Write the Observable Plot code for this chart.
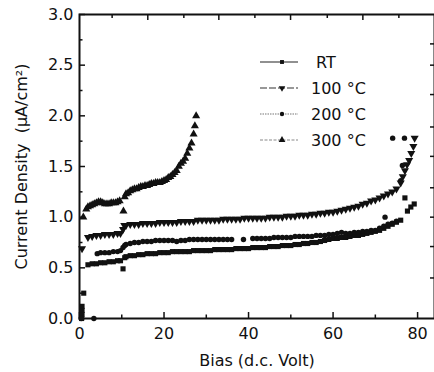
<!DOCTYPE html>
<html><head><meta charset="utf-8">
<script src="https://cdn.jsdelivr.net/npm/d3@7"></script>
<script src="https://cdn.jsdelivr.net/npm/@observablehq/plot@0.6"></script>
<style>body{margin:0;background:#fff} #chart{width:434px;height:372px}</style>
</head><body><div id="chart"></div>
<script>
// ---- data ----
const seriesNames = ["RT", "100 °C", "200 °C", "300 °C"];

const rtBias = [0.5,0.6,0.6,0.6,1.0,2,3,4,5,6,7,8,9,9.7,10.3,10.7,
  11,12,13,14,15,16,17,18,19,20,21,22,23,24,25,26,27,28,29,30,31,32,33,34,35,36,37,38,39,40,
  41,42,43,44,45,46,47,48,49,50,51,52,53,54,55,56,57,58,59,60,61,62,63,64,65,66,67,68,69,70,
  71,72,73,74,75,76,77,77.6,78.4,79.2];
const rtJ = [0.0,0.04,0.08,0.12,0.25,0.53,0.54,0.54,0.55,0.55,0.56,0.56,0.57,0.57,0.49,0.60,
  0.61,0.62,0.62,0.63,0.63,0.64,0.64,0.64,0.65,0.65,0.65,0.66,0.66,0.66,0.66,0.66,0.67,0.67,0.67,0.67,
  0.67,0.68,0.68,0.68,0.68,0.68,0.69,0.69,0.69,0.69,0.70,0.70,0.70,0.70,0.71,0.71,0.71,0.72,0.72,0.72,
  0.73,0.73,0.74,0.74,0.75,0.75,0.76,0.77,0.78,0.79,0.79,0.80,0.80,0.81,0.82,0.82,0.83,0.84,0.85,0.86,
  0.87,0.89,0.91,0.93,0.95,0.97,1.19,1.06,1.10,1.13];

const t100Bias = [0.6,2,3,4,5,6,7,8,9,9.7,10.3,10.6,
  11,12,13,14,15,16,17,18,19,20,21,22,23,24,25,26,27,28,29,30,31,32,33,34,35,36,37,38,39,40,
  41,42,43,44,45,46,47,48,49,50,51,52,53,54,55,56,57,58,59,60,61,62,63,64,65,66,67,68,69,70,
  71,72,73,74,75,76,76.5,77,77.5,78,78.5,79,79.3];
const t100J = [0.69,0.80,0.81,0.82,0.82,0.83,0.83,0.83,0.84,0.84,0.88,0.92,
  0.92,0.93,0.93,0.93,0.94,0.94,0.94,0.94,0.95,0.95,0.95,0.95,0.95,0.96,0.96,0.96,0.96,0.97,0.97,0.97,
  0.97,0.97,0.97,0.98,0.98,0.98,0.98,0.98,0.99,0.99,0.99,0.99,0.99,0.99,1.00,1.00,1.00,1.00,1.01,1.01,
  1.01,1.02,1.02,1.02,1.03,1.03,1.04,1.04,1.05,1.05,1.06,1.07,1.08,1.09,1.10,1.11,1.13,1.14,1.16,1.17,
  1.19,1.21,1.23,1.25,1.28,1.34,1.40,1.46,1.52,1.56,1.63,1.70,1.78];

const t200Bias = [0.4,3.4,4.2,5,6,7,8,9,9.7,10.3,10.7,
  11,12,13,14,15,16,17,18,19,20,21,22,23,24,25,26,27,28,29,30,31,32,33,34,35,36,38.8,
  41,42,43,44,45,46,47,48,49,50,51,52,53,54,55,56,57,58,59,60,61,62,63,64,65,66,67,68,69,70,
  71,72,72.3,73,74,75,76,76.4,74.1,76.9];
const t200J = [0.0,0.0,0.64,0.65,0.65,0.65,0.66,0.66,0.67,0.70,0.72,
  0.73,0.74,0.75,0.75,0.76,0.76,0.76,0.77,0.77,0.77,0.77,0.77,0.76,0.77,0.77,0.78,0.78,0.78,0.78,0.78,
  0.78,0.78,0.78,0.78,0.78,0.78,0.78,
  0.79,0.79,0.79,0.79,0.79,0.80,0.80,0.80,0.80,0.80,0.81,0.81,0.81,0.81,0.81,0.82,0.82,0.82,0.83,0.83,
  0.84,0.85,0.84,0.84,0.85,0.85,0.86,0.86,0.87,0.87,
  0.89,0.91,1.00,0.93,0.94,0.96,1.36,1.51,1.78,1.78];

const t300Bias = [0.9,1.6,2,2.5,3,3.5,4,4.5,5,5.5,6,6.5,7,7.5,8,8.5,9,9.5,10.4,10.7,
  11,11.5,12,12.5,13,13.5,14,14.5,15,15.5,16,16.5,17,17.5,18,18.5,19,19.5,20,20.5,21,21.5,
  22,22.5,23,23.5,24,24.5,25,25.5,26,26.5,27,27.3,27.6];
const t300J = [1.00,1.08,1.10,1.11,1.12,1.13,1.14,1.15,1.15,1.14,1.13,1.13,1.13,1.14,1.14,1.14,1.15,1.16,1.06,1.20,
  1.23,1.24,1.26,1.27,1.28,1.28,1.29,1.30,1.30,1.31,1.31,1.32,1.33,1.33,1.34,1.34,1.34,1.35,1.36,1.37,1.39,1.40,
  1.42,1.44,1.46,1.50,1.53,1.55,1.58,1.63,1.68,1.73,1.82,1.90,2.00];

// ---- axes / ticks ----
const xTickValues = [0, 20, 40, 60, 80];
const xMinorTicks = [10, 30, 50, 70];
const yTickValues = [0, 0.5, 1.0, 1.5, 2.0, 2.5, 3.0];
const yMinorTicks = [0.25, 0.75, 1.25, 1.75, 2.25, 2.75];
const topTicksLong = [16.16, 32.97, 49.94, 67.05];
const topTicksShort = [7.72, 24.69, 41.5, 58.63, 75.57];
const rightTicks = [0.40, 0.71, 1.00, 1.29, 1.60, 1.89, 2.21, 2.50, 2.71];
const xLabel = "Bias (d.c. Volt)";
const yLabel = "Current Density  (\u03bcA/cm\u00b2)";

// ---- build ----
const W = 434, H = 372, mL = 79, mR = 0, mT = 14, mB = 54;
const fw = W - mL - mR, fh = H - mT - mB;
const zip = (xs, ys, s) => xs.map((x, i) => ({bias: x, j: ys[i], series: s}));
const rt = zip(rtBias, rtJ, seriesNames[0]);
const d100 = zip(t100Bias, t100J, seriesNames[1]);
const d200 = zip(t200Bias, t200J, seriesNames[2]);
const d300 = zip(t300Bias, t300J, seriesNames[3]);

const sqrt3 = Math.sqrt(3);
const triangleDown = {draw(context, size) {
  const y = -Math.sqrt(size / (sqrt3 * 3));
  context.moveTo(0, -y * 2);
  context.lineTo(-sqrt3 * y, y);
  context.lineTo(sqrt3 * y, y);
  context.closePath();
}};

const font = "DejaVu Sans, sans-serif";
const fs = 16;
const rSq = 2.9, rDn = 3.0, rCi = 2.7, rUp = 3.0;
const svg = Plot.plot({
  width: W, height: H, marginLeft: mL, marginRight: mR, marginTop: mT, marginBottom: mB,
  style: {fontFamily: font, fontSize: fs + "px", color: "#111", background: "#fff"},
  x: {domain: [0, 84]},
  y: {domain: [0, 3]},
  marks: [
    Plot.axisX({ticks: xTickValues, tickSize: 0, tickPadding: 9, label: null, tickFormat: d3.format("d"), fontSize: fs}),
    Plot.axisY({ticks: yTickValues, tickSize: 0, tickPadding: 6, label: null, tickFormat: d3.format(".1f"), fontSize: fs}),
    // inward ticks
    Plot.ruleX(xTickValues, {x: d => d, insetTop: fh - 6, stroke: "#111", strokeWidth: 1.5}),
    Plot.ruleX(xMinorTicks, {x: d => d, insetTop: fh - 3.5, stroke: "#111", strokeWidth: 1.5}),
    Plot.ruleX(topTicksLong, {x: d => d, insetBottom: fh - 6, stroke: "#111", strokeWidth: 1.5}),
    Plot.ruleX(topTicksShort, {x: d => d, insetBottom: fh - 4, stroke: "#111", strokeWidth: 1.5}),
    Plot.ruleY(yTickValues, {y: d => d, insetRight: fw - 6, stroke: "#111", strokeWidth: 1.5}),
    Plot.ruleY(yMinorTicks, {y: d => d, insetRight: fw - 3.5, stroke: "#111", strokeWidth: 1.5}),
    Plot.ruleY(rightTicks, {y: d => d, insetLeft: fw - 4, stroke: "#111", strokeWidth: 1.5}),
    Plot.frame({stroke: "#111", strokeWidth: 2}),
    // data
    Plot.dot(rt, {x: "bias", y: "j", symbol: "square", r: rSq, fill: "#111", stroke: "none"}),
    Plot.dot(d100, {x: "bias", y: "j", symbol: triangleDown, r: rDn, fill: "#111", stroke: "none"}),
    Plot.dot(d200, {x: "bias", y: "j", symbol: "circle", r: rCi, fill: "#111", stroke: "none"}),
    Plot.dot(d300, {x: "bias", y: "j", symbol: "triangle", r: rUp, fill: "#111", stroke: "none"}),
    // axis titles
    Plot.text([xLabel], {frameAnchor: "bottom", dy: 47, text: d => d, fontSize: fs, fill: "#111"}),
    Plot.text([yLabel], {frameAnchor: "left", dx: -58, rotate: -90, textAnchor: "middle", text: d => d, fontSize: fs, fill: "#111"})
  ]
});

// legend inside the plot (top right)
const legendSymbols = [d3.symbolSquare, triangleDown, d3.symbolCircle, d3.symbolTriangle];
const legendSizes = [2.2, 2.4, 2.2, 2.5].map(r => r * r * Math.PI);
const legendDash = [null, "7,2", "1.5,1", "3,1.5"];
const legendStroke = ["#222", "#333", "#777", "#888"];
const g = d3.select(svg).append("g").attr("font-family", font).attr("font-size", fs)
  .attr("text-anchor", "start");
seriesNames.forEach((name, i) => {
  const y = 62 + i * 26;
  g.append("line").attr("x1", 260).attr("x2", 298).attr("y1", y).attr("y2", y)
    .attr("stroke", legendStroke[i]).attr("stroke-width", 1.2)
    .attr("stroke-dasharray", legendDash[i]);
  g.append("path").attr("transform", `translate(282,${y})`)
    .attr("d", d3.symbol(legendSymbols[i], legendSizes[i])()).attr("fill", "#111");
  g.append("text").attr("x", i === 0 ? 316 : 311).attr("y", y).attr("dy", "0.35em")
    .attr("text-anchor", "start").attr("fill", "#111").text(name);
});

document.getElementById("chart").appendChild(svg);
</script>
</body></html>
